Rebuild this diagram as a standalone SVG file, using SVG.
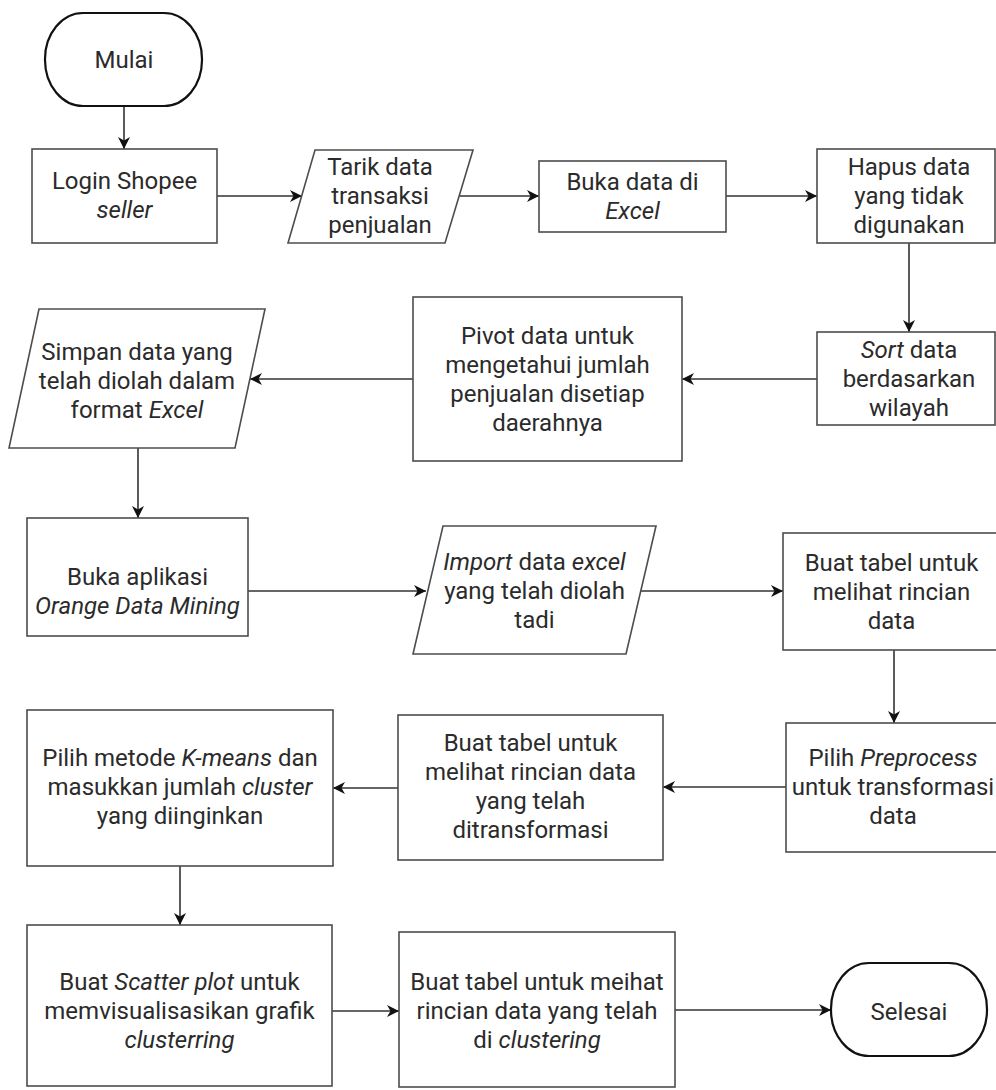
<svg xmlns="http://www.w3.org/2000/svg" width="996" height="1090" viewBox="0 0 996 1090">
<style>
.box{fill:#fff;stroke:#4d4d4d;stroke-width:1.6}
.term{fill:#fff;stroke:#111;stroke-width:2.2}
.t{font-family:Roboto,"Liberation Sans",sans-serif;font-size:24px;fill:#2b2b2b;text-anchor:middle}
.i{font-style:italic}
.c{fill:none;stroke:#333;stroke-width:1.6}
</style>
<defs>
<marker id="ah" markerUnits="userSpaceOnUse" markerWidth="14" markerHeight="12" refX="12" refY="6" orient="auto">
<path d="M0,0 L12,6 L0,12 L3.5,6 Z" fill="#111"/>
</marker>
</defs>
<rect width="996" height="1090" fill="#fff"/>
<g id="connectors">
<line class="c" x1="124" y1="106" x2="124" y2="149" marker-end="url(#ah)"/>
<line class="c" x1="217" y1="196" x2="302" y2="196" marker-end="url(#ah)"/>
<line class="c" x1="459" y1="196" x2="539" y2="196" marker-end="url(#ah)"/>
<line class="c" x1="726" y1="196" x2="817" y2="196" marker-end="url(#ah)"/>
<line class="c" x1="909" y1="243" x2="909" y2="332" marker-end="url(#ah)"/>
<line class="c" x1="817" y1="379" x2="682" y2="379" marker-end="url(#ah)"/>
<line class="c" x1="413" y1="379" x2="250" y2="379" marker-end="url(#ah)"/>
<line class="c" x1="138" y1="448" x2="138" y2="518" marker-end="url(#ah)"/>
<line class="c" x1="248" y1="591" x2="426" y2="591" marker-end="url(#ah)"/>
<line class="c" x1="641" y1="591" x2="783" y2="591" marker-end="url(#ah)"/>
<line class="c" x1="894" y1="650" x2="894" y2="723" marker-end="url(#ah)"/>
<line class="c" x1="786" y1="787" x2="663" y2="787" marker-end="url(#ah)"/>
<line class="c" x1="398" y1="788" x2="333" y2="788" marker-end="url(#ah)"/>
<line class="c" x1="180" y1="866" x2="180" y2="925" marker-end="url(#ah)"/>
<line class="c" x1="332" y1="1011" x2="399" y2="1011" marker-end="url(#ah)"/>
<line class="c" x1="675" y1="1010" x2="831" y2="1010" marker-end="url(#ah)"/>
</g>
<g id="mulai">
<rect class="term" x="45" y="13" width="157" height="93" rx="38" ry="46"/>
<text class="t" x="124" y="68">Mulai</text>
</g>
<g id="login">
<rect class="box" x="32" y="149" width="185" height="94"/>
<text class="t" x="124.5" y="189">Login Shopee</text>
<text class="t i" x="124.5" y="218">seller</text>
</g>
<g id="tarik">
<polygon class="box" points="315,150 473,150 445,243 288,243"/>
<text class="t" x="380" y="175">Tarik data</text>
<text class="t" x="380" y="204">transaksi</text>
<text class="t" x="380" y="233">penjualan</text>
</g>
<g id="buka-data">
<rect class="box" x="539" y="161" width="187" height="71"/>
<text class="t" x="632.5" y="190">Buka data di</text>
<text class="t i" x="632.5" y="219">Excel</text>
</g>
<g id="hapus">
<rect class="box" x="817" y="149" width="178" height="94"/>
<text class="t" x="909" y="175">Hapus data</text>
<text class="t" x="909" y="204">yang tidak</text>
<text class="t" x="909" y="233">digunakan</text>
</g>
<g id="sort">
<rect class="box" x="817" y="332" width="178" height="93"/>
<text class="t" x="909" y="358"><tspan class="i">Sort</tspan> data</text>
<text class="t" x="909" y="387">berdasarkan</text>
<text class="t" x="909" y="416">wilayah</text>
</g>
<g id="pivot">
<rect class="box" x="413" y="297" width="269" height="164"/>
<text class="t" x="547.5" y="344">Pivot data untuk</text>
<text class="t" x="547.5" y="373">mengetahui jumlah</text>
<text class="t" x="547.5" y="402">penjualan disetiap</text>
<text class="t" x="547.5" y="431">daerahnya</text>
</g>
<g id="simpan">
<polygon class="box" points="39,309 265,309 235,448 9,448"/>
<text class="t" x="137" y="360">Simpan data yang</text>
<text class="t" x="137" y="389">telah diolah dalam</text>
<text class="t" x="137" y="418">format <tspan class="i">Excel</tspan></text>
</g>
<g id="buka-aplikasi">
<rect class="box" x="27" y="518" width="221" height="118"/>
<text class="t" x="137.5" y="585">Buka aplikasi</text>
<text class="t i" x="137.5" y="614">Orange Data Mining</text>
</g>
<g id="import">
<polygon class="box" points="443,526 656,526 626,654 413,654"/>
<text class="t" x="534.5" y="570"><tspan class="i">Import</tspan> data <tspan class="i">excel</tspan></text>
<text class="t" x="534.5" y="599">yang telah diolah</text>
<text class="t" x="534.5" y="628">tadi</text>
</g>
<g id="buat-tabel-1">
<rect class="box" x="783" y="533" width="217" height="117"/>
<text class="t" x="891.5" y="571">Buat tabel untuk</text>
<text class="t" x="891.5" y="600">melihat rincian</text>
<text class="t" x="891.5" y="629">data</text>
</g>
<g id="preprocess">
<rect class="box" x="786" y="723" width="218" height="129"/>
<text class="t" x="893" y="766">Pilih <tspan class="i">Preprocess</tspan></text>
<text class="t" x="893" y="795">untuk transformasi</text>
<text class="t" x="893" y="824">data</text>
</g>
<g id="buat-tabel-2">
<rect class="box" x="398" y="715" width="265" height="145"/>
<text class="t" x="530.5" y="751">Buat tabel untuk</text>
<text class="t" x="530.5" y="780">melihat rincian data</text>
<text class="t" x="530.5" y="809">yang telah</text>
<text class="t" x="530.5" y="838">ditransformasi</text>
</g>
<g id="kmeans">
<rect class="box" x="27" y="710" width="306" height="156"/>
<text class="t" x="180" y="766">Pilih metode <tspan class="i">K-means</tspan> dan</text>
<text class="t" x="180" y="795">masukkan jumlah <tspan class="i">cluster</tspan></text>
<text class="t" x="180" y="824">yang diinginkan</text>
</g>
<g id="scatter">
<rect class="box" x="27" y="925" width="305" height="161"/>
<text class="t" x="179.5" y="990">Buat <tspan class="i">Scatter plot</tspan> untuk</text>
<text class="t" x="179.5" y="1019">memvisualisasikan grafik</text>
<text class="t i" x="179.5" y="1048">clusterring</text>
</g>
<g id="buat-tabel-3">
<rect class="box" x="399" y="932" width="276" height="155"/>
<text class="t" x="537" y="990">Buat tabel untuk meihat</text>
<text class="t" x="537" y="1019">rincian data yang telah</text>
<text class="t" x="537" y="1048">di <tspan class="i">clustering</tspan></text>
</g>
<g id="selesai">
<rect class="term" x="831" y="963" width="156" height="93" rx="38" ry="46"/>
<text class="t" x="909" y="1020">Selesai</text>
</g>
</svg>
